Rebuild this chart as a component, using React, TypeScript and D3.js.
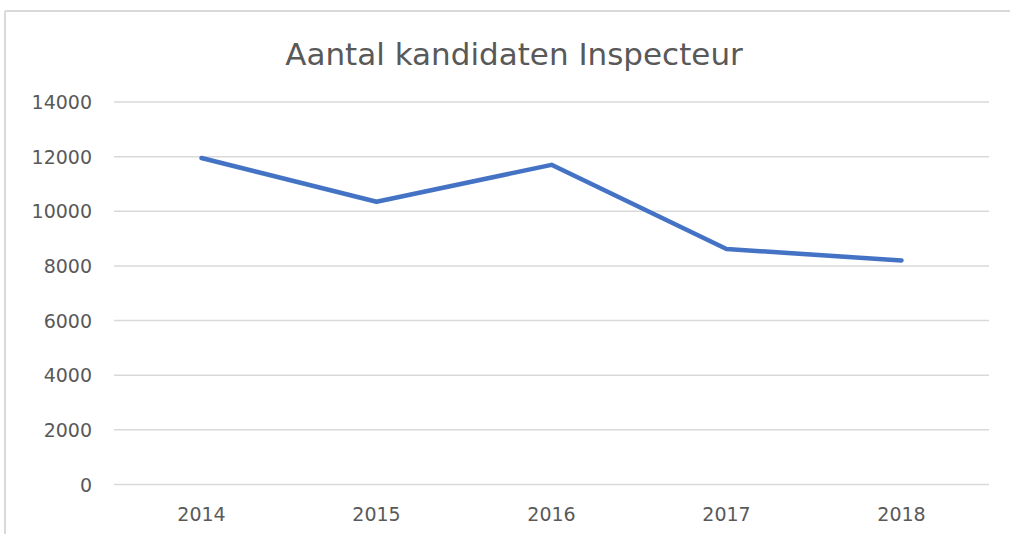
import React from "react";
import * as d3 from "d3";

const years = ["2014", "2015", "2016", "2017", "2018"];
const candidates = [11950, 10350, 11700, 8620, 8200];
const yTicks = [0, 2000, 4000, 6000, 8000, 10000, 12000, 14000];
const title = "Aantal kandidaten Inspecteur";

const W = 1010;
const H = 534;
const margin = { left: 114, right: 21, top: 102, bottom: 49.5 };

export default function App() {
  const x = d3
    .scaleBand<string>()
    .domain(years)
    .range([margin.left, W - margin.right]);
  const y = d3
    .scaleLinear()
    .domain([0, 14000])
    .range([H - margin.bottom, margin.top]);
  const line = d3
    .line<number>()
    .x((_, i) => (x(years[i]) as number) + x.bandwidth() / 2)
    .y((d) => y(d));

  const font = "'DejaVu Sans', sans-serif";
  const textColor = "#595959";

  return (
    <svg
      width={W}
      height={H}
      style={{ position: "absolute", left: 0, top: 0, background: "#fff" }}
    >
      <rect x={0} y={0} width={W} height={H} fill="#fff" />
      <line x1={5} x2={W} y1={11} y2={11} stroke="#d9d9d9" strokeWidth={2} />
      <line x1={5} x2={5} y1={11} y2={H} stroke="#d9d9d9" strokeWidth={2} />
      <text
        x={514}
        y={65}
        textAnchor="middle"
        fontFamily={font}
        fontSize={31}
        fill={textColor}
      >
        {title}
      </text>
      {yTicks.map((t) => (
        <g key={t}>
          <line
            x1={margin.left}
            x2={W - margin.right}
            y1={y(t)}
            y2={y(t)}
            stroke="#d9d9d9"
            strokeWidth={1.5}
          />
          <text
            x={92}
            y={y(t) + 7}
            textAnchor="end"
            fontFamily={font}
            fontSize={19}
            fill={textColor}
          >
            {t}
          </text>
        </g>
      ))}
      {years.map((yr) => (
        <text
          key={yr}
          x={(x(yr) as number) + x.bandwidth() / 2}
          y={521}
          textAnchor="middle"
          fontFamily={font}
          fontSize={19}
          fill={textColor}
        >
          {yr}
        </text>
      ))}
      <path
        d={line(candidates) || ""}
        fill="none"
        stroke="#4472C4"
        strokeWidth={4.5}
        strokeLinecap="round"
        strokeLinejoin="round"
      />
    </svg>
  );
}
